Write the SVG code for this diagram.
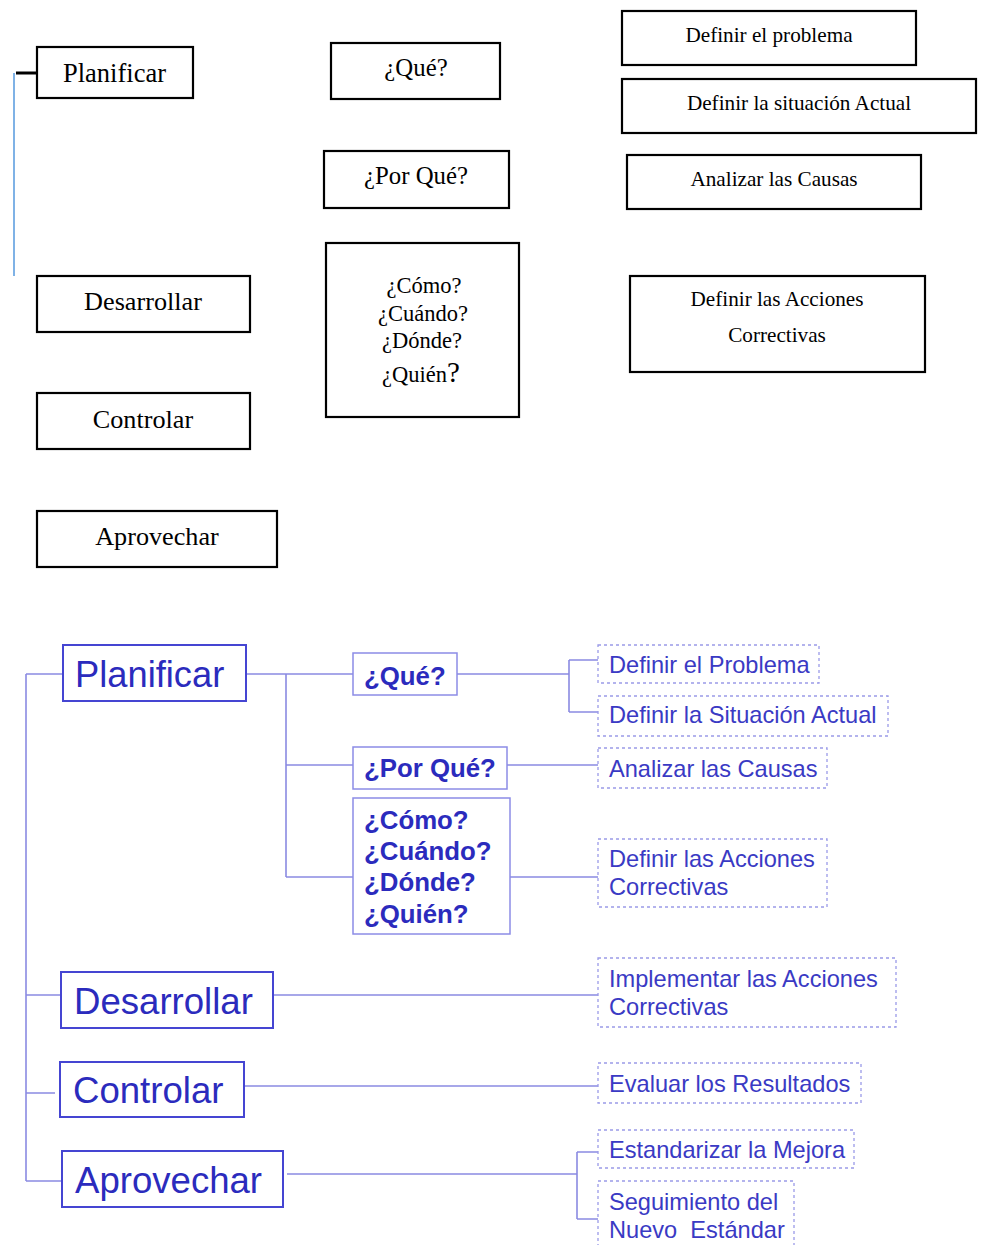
<svg xmlns="http://www.w3.org/2000/svg" width="981" height="1245" viewBox="0 0 981 1245">
<style>
.bk{fill:#fff;stroke:#000;stroke-width:2.2}
.tt{font-family:"Liberation Serif","Times New Roman",serif;fill:#000;text-anchor:middle}
.bb{fill:#fff;stroke:#4545d2;stroke-width:2}
.bq{fill:#fff;stroke:#8c8ce6;stroke-width:1.5}
.bd{fill:#fff;stroke:#9a9ae8;stroke-width:1.3;stroke-dasharray:3 3}
.ta{font-family:"Liberation Sans",Arial,sans-serif;fill:#2b2bbd}
.tb{font-family:"Liberation Sans",Arial,sans-serif;fill:#2b2bbd;font-weight:bold;font-size:25.8px}
.tr{font-family:"Liberation Sans",Arial,sans-serif;fill:#3a3ac4;font-size:23.6px}
.cn{fill:none;stroke:#8a8ae2;stroke-width:1.6}
</style>
<rect width="981" height="1245" fill="#fff"/>
<!-- top (black) version -->
<g id="top-connectors">
<line x1="14" y1="73" x2="14" y2="276" stroke="#7fb2e6" stroke-width="2"/>
<line x1="16" y1="73" x2="37" y2="73" stroke="#000" stroke-width="3"/>
</g>
<g id="t-planificar"><rect class="bk" x="37" y="47" width="156" height="51"/><text class="tt" x="114.5" y="82" font-size="26.5">Planificar</text></g>
<g id="t-que"><rect class="bk" x="331" y="43" width="169" height="56"/><text class="tt" x="416" y="76" font-size="24.8">¿Qué?</text></g>
<g id="t-porque"><rect class="bk" x="324" y="151" width="185" height="57"/><text class="tt" x="416" y="184" font-size="24.8">¿Por Qué?</text></g>
<g id="t-como"><rect class="bk" x="326" y="243" width="193" height="174"/>
<text class="tt" x="424" y="293" font-size="22.5">¿Cómo?</text>
<text class="tt" x="423" y="321" font-size="22.5">¿Cuándo?</text>
<text class="tt" x="422" y="348" font-size="22.5">¿Dónde?</text>
<text class="tt" x="421" y="382" font-size="22.5">¿Quién<tspan font-size="29">?</tspan></text></g>
<g id="t-desarrollar"><rect class="bk" x="37" y="276" width="213" height="56"/><text class="tt" x="143" y="310" font-size="26.2">Desarrollar</text></g>
<g id="t-controlar"><rect class="bk" x="37" y="393" width="213" height="56"/><text class="tt" x="143" y="428" font-size="26.2">Controlar</text></g>
<g id="t-aprovechar"><rect class="bk" x="37" y="511" width="240" height="56"/><text class="tt" x="157" y="545" font-size="26.2">Aprovechar</text></g>
<g id="t-def-problema"><rect class="bk" x="622" y="11" width="294" height="54"/><text class="tt" x="769" y="42" font-size="21.2">Definir el problema</text></g>
<g id="t-def-situacion"><rect class="bk" x="622" y="79" width="354" height="54"/><text class="tt" x="799" y="110" font-size="21.2">Definir la situación Actual</text></g>
<g id="t-analizar"><rect class="bk" x="627" y="155" width="294" height="54"/><text class="tt" x="774" y="186" font-size="21.2">Analizar las Causas</text></g>
<g id="t-def-acciones"><rect class="bk" x="630" y="276" width="295" height="96"/><text class="tt" x="777" y="306" font-size="21.2">Definir las Acciones</text><text class="tt" x="777" y="342" font-size="21.2">Correctivas</text></g>

<!-- bottom (blue) version -->
<g id="connectors">
<path class="cn" d="M26 674 V1181"/>
<path class="cn" d="M26 674 H63 M26 995 H61 M26 1093 H55 M26 1181 H62"/>
<path class="cn" d="M244 674 H353 M286 674 V877 M286 765 H353 M286 877 H353"/>
<path class="cn" d="M457 674 H569 M569 660 V712 M569 660 H598 M569 712 H598"/>
<path class="cn" d="M507 765 H598 M510 877 H598"/>
<path class="cn" d="M273 995 H598 M243 1086 H598 M287 1174 H577 M577 1152 V1219 M577 1152 H598 M577 1219 H598"/>
</g>
<g id="planificar"><rect class="bb" x="63" y="645" width="183" height="56"/><text class="ta" x="75" y="687" font-size="36.3">Planificar</text></g>
<g id="que"><rect class="bq" x="353" y="653" width="104" height="42"/><text class="tb" x="364" y="685">¿Qué?</text></g>
<g id="porque"><rect class="bq" x="353" y="747" width="154" height="42"/><text class="tb" x="364" y="777">¿Por Qué?</text></g>
<g id="como"><rect class="bq" x="353" y="798" width="157" height="136"/>
<text class="tb" x="364" y="829">¿Cómo?</text>
<text class="tb" x="364" y="860">¿Cuándo?</text>
<text class="tb" x="364" y="891">¿Dónde?</text>
<text class="tb" x="364" y="923">¿Quién?</text></g>
<g id="desarrollar"><rect class="bb" x="61" y="972" width="212" height="56"/><text class="ta" x="74" y="1014" font-size="36.6">Desarrollar</text></g>
<g id="controlar"><rect class="bb" x="60" y="1062" width="184" height="55"/><text class="ta" x="73" y="1103" font-size="36.6">Controlar</text></g>
<g id="aprovechar"><rect class="bb" x="62" y="1151" width="221" height="56"/><text class="ta" x="75" y="1193" font-size="36.6">Aprovechar</text></g>
<g id="def-problema"><rect class="bd" x="598" y="645" width="221" height="38"/><text class="tr" x="609" y="673">Definir el Problema</text></g>
<g id="def-situacion"><rect class="bd" x="598" y="696" width="290" height="40"/><text class="tr" x="609" y="723">Definir la Situación Actual</text></g>
<g id="analizar"><rect class="bd" x="598" y="748" width="229" height="40"/><text class="tr" x="609" y="777">Analizar las Causas</text></g>
<g id="def-acciones"><rect class="bd" x="598" y="839" width="229" height="68"/><text class="tr" x="609" y="867">Definir las Acciones</text><text class="tr" x="609" y="895">Correctivas</text></g>
<g id="implementar"><rect class="bd" x="598" y="958" width="298" height="69"/><text class="tr" x="609" y="987">Implementar las Acciones</text><text class="tr" x="609" y="1015">Correctivas</text></g>
<g id="evaluar"><rect class="bd" x="598" y="1063" width="263" height="40"/><text class="tr" x="609" y="1092">Evaluar los Resultados</text></g>
<g id="estandarizar"><rect class="bd" x="598" y="1130" width="256" height="38"/><text class="tr" x="609" y="1158">Estandarizar la Mejora</text></g>
<g id="seguimiento"><rect class="bd" x="598" y="1181" width="196" height="80"/><text class="tr" x="609" y="1210">Seguimiento del</text><text class="tr" x="609" y="1238" xml:space="preserve">Nuevo  Estándar</text></g>
</svg>
